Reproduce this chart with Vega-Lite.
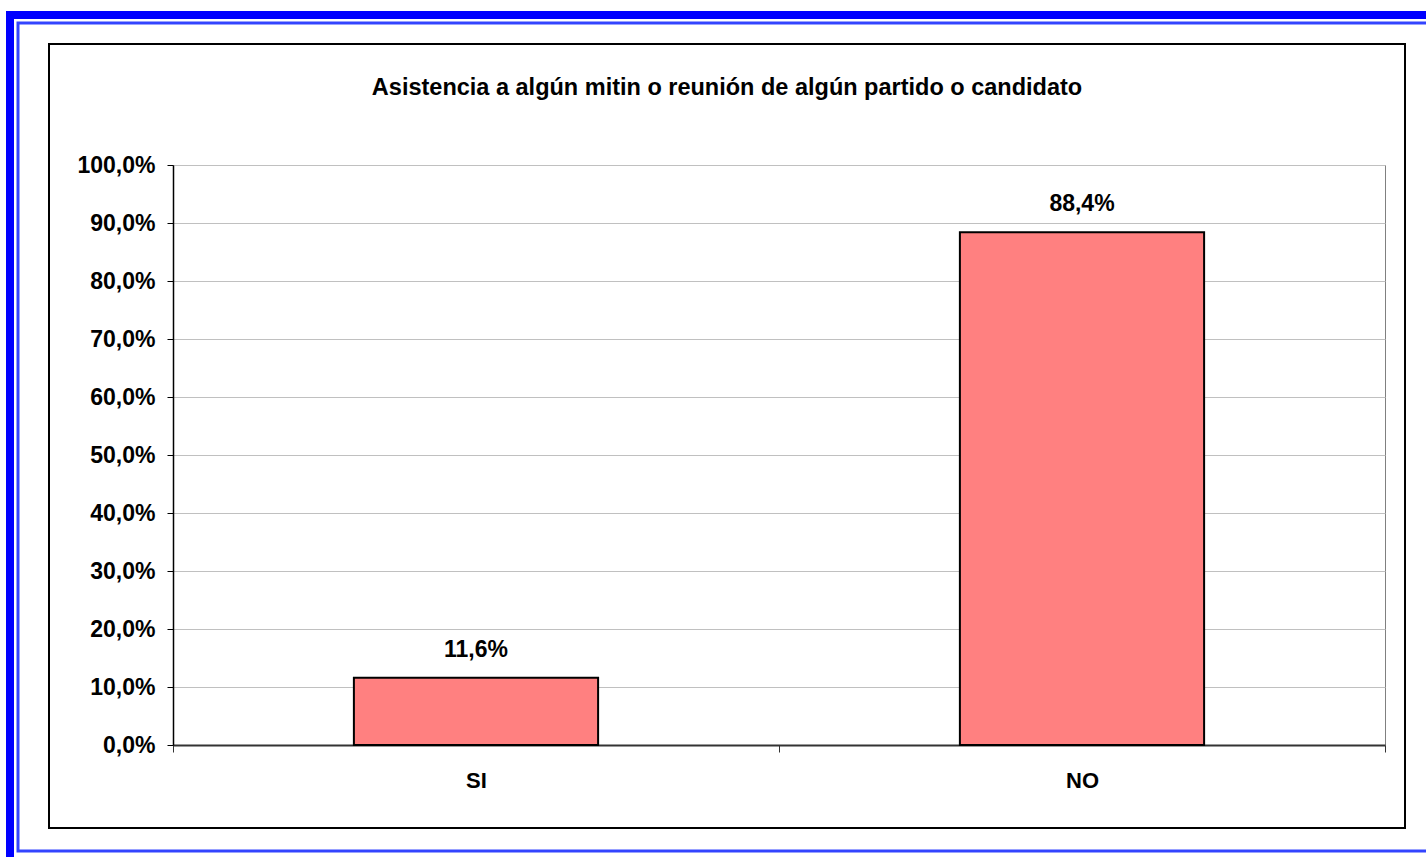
{
  "$schema": "https://vega.github.io/schema/vega-lite/v6.json",
  "autosize": "none",
  "width": 1212,
  "height": 580,
  "padding": {"left": 173, "top": 165, "right": 41, "bottom": 112},
  "background": "white",
  "config": {
    "locale": {"number": {"decimal": ",", "thousands": ".", "grouping": [3], "currency": ["", " €"]}},
    "font": "Liberation Sans",
    "view": {"stroke": "#808080", "strokeWidth": 1}
  },
  "title": {
    "text": "Asistencia a algún mitin o reunión de algún partido o candidato",
    "font": "Liberation Sans",
    "fontSize": 23.5,
    "fontWeight": "bold",
    "color": "#000000",
    "anchor": "middle",
    "frame": "group",
    "baseline": "alphabetic",
    "dx": -52,
    "offset": -107
  },
  "data": {"values": [
    {"respuesta": "SI", "porcentaje": 0.116},
    {"respuesta": "NO", "porcentaje": 0.884}
  ]},
  "layer": [
    {
      "data": {"values": [{}]},
      "mark": {"type": "rect", "x": -163, "y": -150, "x2": 1275, "y2": 715, "fill": null, "stroke": "#0000FF", "strokeWidth": 8, "clip": false},
      "encoding": {}
    },
    {
      "data": {"values": [{}]},
      "mark": {"type": "rect", "x": -155, "y": -142, "x2": 1262, "y2": 686, "fill": null, "stroke": "#3344FF", "strokeWidth": 3, "clip": false},
      "encoding": {}
    },
    {
      "data": {"values": [{}]},
      "mark": {"type": "rect", "x": -124, "y": -121, "x2": 1232, "y2": 663, "fill": null, "stroke": "#000000", "strokeWidth": 2, "clip": false},
      "encoding": {}
    },
    {
      "mark": {"type": "bar", "fill": "#FF8080", "stroke": "#000000", "strokeWidth": 2, "width": {"band": 0.403}},
      "encoding": {
        "x": {
          "field": "respuesta",
          "type": "nominal",
          "sort": ["SI", "NO"],
          "scale": {"paddingInner": 0, "paddingOuter": 0},
          "axis": {
            "title": null,
            "labelAngle": 0,
            "labelFont": "Liberation Sans",
            "labelFontSize": 22,
            "labelFontWeight": "bold",
            "labelColor": "#000000",
            "labelBaseline": "top",
            "labelPadding": 18,
            "tickBand": "extent",
            "ticks": true,
            "tickSize": 7,
            "tickColor": "#333333",
            "domainColor": "#333333",
            "domainWidth": 2,
            "grid": false
          }
        },
        "y": {
          "field": "porcentaje",
          "type": "quantitative",
          "scale": {"domain": [0, 1], "nice": false},
          "axis": {
            "title": null,
            "format": ".1%",
            "values": [0, 0.1, 0.2, 0.3, 0.4, 0.5, 0.6, 0.7, 0.8, 0.9, 1],
            "labelFont": "Liberation Sans",
            "labelFontSize": 23,
            "labelFontWeight": "bold",
            "labelColor": "#000000",
            "labelPadding": 12,
            "tickSize": 6,
            "tickColor": "#000000",
            "domainColor": "#000000",
            "domainWidth": 1.5,
            "gridColor": "#C0C0C0",
            "gridWidth": 1
          }
        }
      }
    },
    {
      "mark": {"type": "text", "font": "Liberation Sans", "fontSize": 23, "fontWeight": "bold", "color": "#000000", "baseline": "alphabetic", "dy": -21},
      "encoding": {
        "x": {"field": "respuesta", "type": "nominal", "sort": ["SI", "NO"]},
        "y": {"field": "porcentaje", "type": "quantitative"},
        "text": {"field": "porcentaje", "type": "quantitative", "format": ".1%"}
      }
    }
  ]
}
